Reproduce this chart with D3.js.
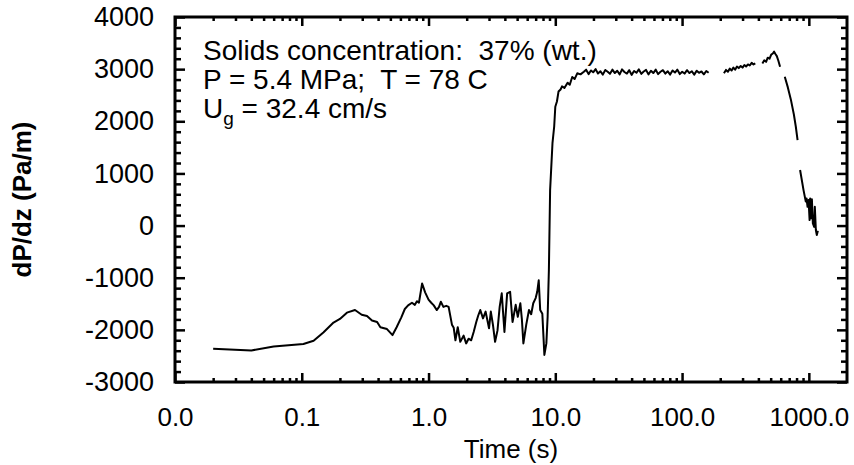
<!DOCTYPE html>
<html lang="en">
<head>
<meta charset="UTF-8">
<title>dP/dz vs time</title>
<script src="https://cdn.jsdelivr.net/npm/d3@7/dist/d3.min.js"></script>
<style>
  * { margin: 0; padding: 0; }
  body { background: #fff; }
  text { font-family: "Liberation Sans", Arial, Helvetica, sans-serif; fill: #000; }
</style>
</head>
<body>
<div id="grafico"></div>
<script>
// ---- data ----
// before the jump and the first plateau (s, Pa/m)
var tiempoA = [0.020, 0.040, 0.060, 0.103, 0.124, 0.148, 0.178, 0.200, 0.227, 0.263, 0.297, 0.327, 0.358, 0.393, 0.417,
  0.470, 0.520, 0.560, 0.610, 0.650, 0.690, 0.740, 0.780, 0.810, 0.840, 0.890, 0.940, 1.00, 1.05, 1.10, 1.16, 1.21,
  1.25, 1.31, 1.38, 1.44, 1.53, 1.58, 1.63, 1.70, 1.78, 1.89, 1.98, 2.07, 2.17, 2.27, 2.38, 2.47, 2.56, 2.69, 2.82,
  3.00, 3.10, 3.22, 3.35, 3.50, 3.64, 3.78, 3.97, 4.17, 4.40, 4.60, 4.87, 5.06, 5.30, 5.45, 5.60, 5.90, 6.20, 6.45,
  6.70, 7.00, 7.20, 7.40, 7.60, 7.90, 8.20, 8.50, 8.70, 8.90, 9.10, 9.50, 9.80, 10.0, 10.3, 10.6, 11.0, 11.3, 11.8,
  12.5, 13.0, 13.6, 14.2, 14.9, 15.8, 16.8,
  17.5, 18.3, 19.1, 19.9, 20.8, 21.7, 22.7, 23.7, 24.8, 25.9, 27.0, 28.2, 29.5, 30.8, 32.2, 33.6, 35.1, 36.7, 38.3,
  40.0, 41.8, 43.7, 45.6, 47.7, 49.8, 52.0, 54.3, 56.8, 59.3, 62.0, 64.7, 67.6, 70.6, 73.8, 77.1, 80.5, 84.1, 87.9,
  91.8, 95.9, 100.2, 104.7, 109.4, 114.3, 119.4, 124.7, 130.3, 136.1, 142.2, 148.6, 155.2, 162.0];
var dpA = [-2360, -2395, -2320, -2270, -2210, -2050, -1860, -1790, -1670, -1620, -1710, -1735, -1820, -1850, -1950,
  -1985, -2100, -1950, -1760, -1600, -1530, -1480, -1520, -1450, -1480, -1110, -1280, -1420, -1480, -1530, -1620, -1560,
  -1460, -1560, -1540, -1560, -1900, -1960, -2200, -1950, -2230, -2110, -2260, -2170, -2200, -2040, -1850, -1720, -1620, -1780, -1650,
  -1970, -1650, -1900, -2230, -2010, -1560, -1300, -2040, -1300, -1270, -1850, -1520, -1750, -1490, -1800, -2260, -1900, -1620, -1700,
  -1490, -1390, -1270, -1050, -1620, -1690, -2480, -2260, -1750, -850, 680, 1580, 1900, 2280, 2380, 2570, 2610, 2670, 2640,
  2740, 2700, 2850, 2810, 2920, 2900, 2950,
  2990, 2905, 2975, 2940, 3000, 2915, 2960, 2895, 2985, 2950, 2910, 2990, 2925, 2970, 2900, 2995, 2945, 2915, 2980,
  2890, 2965, 2930, 2995, 2910, 2955, 2985, 2900, 2970, 2925, 2990, 2905, 2950, 2980, 2915, 2960, 2895, 2975, 2935,
  2990, 2905, 2950, 2915, 2980, 2925, 2960, 2895, 2970, 2930, 2955, 2900, 2965, 2930];

// second piece
var tiempoB = [214, 222, 230, 238, 246, 254, 262, 271, 280, 290, 300, 310, 320, 331, 342, 354, 366, 378];
var dpB = [2920, 2985, 2950, 3010, 2975, 3030, 2990, 3050, 3020, 3060, 3030, 3080, 3050, 3090, 3070, 3120, 3090, 3110];

// the peak
var tiempoC = [430, 445, 460, 474, 490, 505, 520, 532, 545, 559, 575, 593];
var dpC = [3110, 3170, 3140, 3220, 3200, 3280, 3300, 3335, 3290, 3250, 3160, 3045];

// falling line
var tiempoD = [646, 683, 721, 762, 789, 815];
var dpD = [2855, 2650, 2420, 2130, 1900, 1640];

// last noisy piece
var tiempoE = [853, 908, 946, 959, 977, 995, 1014, 1024, 1042, 1057, 1076, 1102, 1115, 1136, 1156, 1178];
var dpE = [1065, 680, 460, 520, 360, 490, 105, 520, 140, 505, 40, -25, 360, -85, -180, -100];

// axis ticks
var ticksX = [0.01, 0.1, 1, 10, 100, 1000];
var ticksY = [-3000, -2000, -1000, 0, 1000, 2000, 3000, 4000];

var w = 854;
var h = 465;
var izq = 175, der = 847, arriba = 17, abajo = 382;

var xScale = d3.scaleLog().domain([0.01, 2000]).range([izq, der]);
var yScale = d3.scaleLinear().domain([-3000, 4000]).range([abajo, arriba]);

// minor ticks 2..9 in every decade
var menoresX = [];
ticksX.forEach(function(d) {
  for (var k = 2; k <= 9; k++) {
    if (d * k < 2000) menoresX.push(d * k);
  }
});
var menoresY = d3.range(-3000, 4001, 200).filter(function(d) { return d % 1000 !== 0; });

var grafico = d3.select("#grafico")
  .append("svg")
  .attr("width", w)
  .attr("height", h);

function quitarDominio(g) { g.select(".domain").remove(); }

// bottom axis
grafico.append("g")
  .attr("transform", "translate(0," + abajo + ")")
  .call(d3.axisBottom(xScale).tickValues(ticksX).tickSize(-9).tickPadding(26).tickFormat(d3.format(".1f")))
  .call(quitarDominio)
  .call(function(g) {
    g.selectAll("text").attr("font-size", "26px");
    g.selectAll("line").attr("stroke-width", 2.5);
  });
grafico.append("g")
  .attr("transform", "translate(0," + abajo + ")")
  .call(d3.axisBottom(xScale).tickValues(menoresX).tickSize(-4).tickFormat(""))
  .call(quitarDominio)
  .selectAll("line").attr("stroke-width", 2.5);

// top axis
grafico.append("g")
  .attr("transform", "translate(0," + arriba + ")")
  .call(d3.axisTop(xScale).tickValues(ticksX).tickSize(-9).tickFormat(""))
  .call(quitarDominio)
  .selectAll("line").attr("stroke-width", 2.5);
grafico.append("g")
  .attr("transform", "translate(0," + arriba + ")")
  .call(d3.axisTop(xScale).tickValues(menoresX).tickSize(-4).tickFormat(""))
  .call(quitarDominio)
  .selectAll("line").attr("stroke-width", 2.5);

// left axis (plain hyphen for negatives, like the original)
grafico.append("g")
  .attr("transform", "translate(" + izq + ",0)")
  .call(d3.axisLeft(yScale).tickValues(ticksY).tickSize(-10).tickPadding(21).tickFormat(function(d) { return String(d); }))
  .call(quitarDominio)
  .call(function(g) {
    g.selectAll("text").attr("font-size", "27px");
    g.selectAll("line").attr("stroke-width", 2.5);
  });
grafico.append("g")
  .attr("transform", "translate(" + izq + ",0)")
  .call(d3.axisLeft(yScale).tickValues(menoresY).tickSize(-6).tickFormat(""))
  .call(quitarDominio)
  .selectAll("line").attr("stroke-width", 2.5);

// right axis
grafico.append("g")
  .attr("transform", "translate(" + der + ",0)")
  .call(d3.axisRight(yScale).tickValues(ticksY).tickSize(-10).tickFormat(""))
  .call(quitarDominio)
  .selectAll("line").attr("stroke-width", 2.5);
grafico.append("g")
  .attr("transform", "translate(" + der + ",0)")
  .call(d3.axisRight(yScale).tickValues(menoresY).tickSize(-6).tickFormat(""))
  .call(quitarDominio)
  .selectAll("line").attr("stroke-width", 2.5);

// frame
grafico.append("rect")
  .attr("x", izq)
  .attr("y", arriba)
  .attr("width", der - izq)
  .attr("height", abajo - arriba)
  .attr("fill", "none")
  .attr("stroke", "#000")
  .attr("stroke-width", 3);

// data line, one path per piece
var linea = d3.line()
  .x(function(d) { return xScale(d[0]); })
  .y(function(d) { return yScale(d[1]); });

var piezas = [
  d3.zip(tiempoA, dpA),
  d3.zip(tiempoB, dpB),
  d3.zip(tiempoC, dpC),
  d3.zip(tiempoD, dpD),
  d3.zip(tiempoE, dpE)
];

grafico.selectAll("path.serie")
  .data(piezas)
  .enter()
  .append("path")
  .attr("class", "serie")
  .attr("d", linea)
  .attr("fill", "none")
  .attr("stroke", "#000")
  .attr("stroke-width", 2)
  .attr("stroke-linejoin", "round");

// axis titles
grafico.append("text")
  .attr("x", (izq + der) / 2)
  .attr("y", 458)
  .attr("text-anchor", "middle")
  .attr("font-size", "26px")
  .text("Time (s)");

grafico.append("text")
  .attr("transform", "translate(31," + ((arriba + abajo) / 2) + ") rotate(-90)")
  .attr("text-anchor", "middle")
  .attr("font-size", "26px")
  .attr("font-weight", "bold")
  .text("dP/dz (Pa/m)");

// notes inside the plot
var notas = grafico.append("g").attr("font-size", "28px");
notas.append("text").attr("x", 203).attr("y", 60).attr("xml:space", "preserve").text("Solids concentration:  37% (wt.)");
notas.append("text").attr("x", 203).attr("y", 89).attr("xml:space", "preserve").text("P = 5.4 MPa;  T = 78 C");
var l3 = notas.append("text").attr("x", 203).attr("y", 118);
l3.append("tspan").text("U");
l3.append("tspan").attr("font-size", "19px").attr("dy", 7).text("g");
l3.append("tspan").attr("dy", -7).text(" = 32.4 cm/s");
</script>
</body>
</html>
